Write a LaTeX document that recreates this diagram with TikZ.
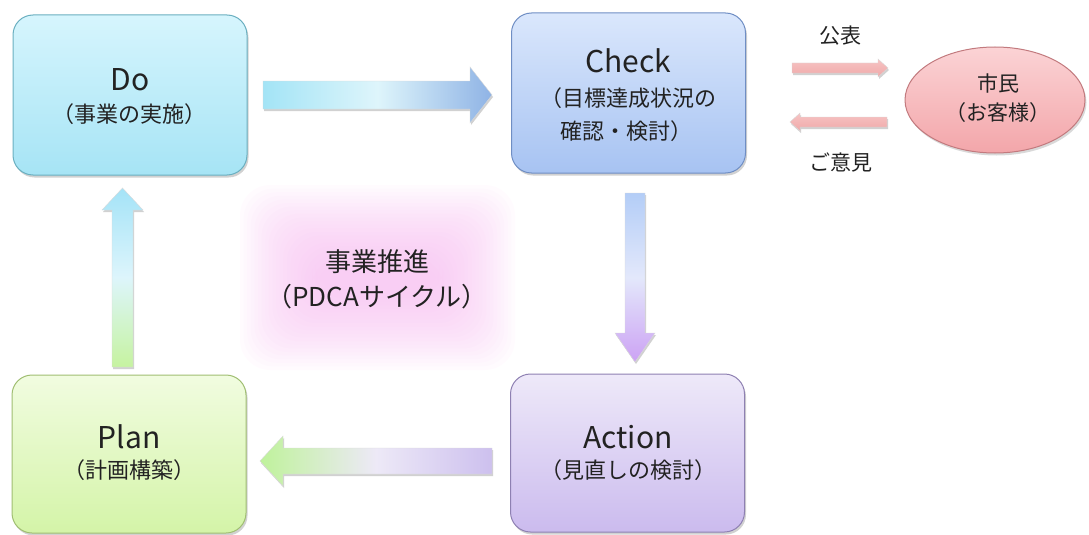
\documentclass[tikz,border=0pt]{standalone}
\usepackage{fontspec}
\setmainfont{Noto Sans CJK JP}
\usetikzlibrary{shadows,shapes.geometric}
\definecolor{txt}{HTML}{222222}
\definecolor{doTop}{HTML}{D6F5FD}\definecolor{doBot}{HTML}{A6E4F5}\definecolor{doLine}{HTML}{6AAFC0}
\definecolor{chTop}{HTML}{DAE7FC}\definecolor{chBot}{HTML}{A7C3F2}\definecolor{chLine}{HTML}{6F8EC4}
\definecolor{plTop}{HTML}{F1FCE0}\definecolor{plBot}{HTML}{D4F4A8}\definecolor{plLine}{HTML}{A0BE72}
\definecolor{acTop}{HTML}{EEE9F9}\definecolor{acBot}{HTML}{CBBBEE}\definecolor{acLine}{HTML}{8E80B2}
\definecolor{elTop}{HTML}{FBD3D5}\definecolor{elBot}{HTML}{F3A6AA}\definecolor{elLine}{HTML}{C27A7E}
\definecolor{cyanA}{HTML}{A3E4F6}\definecolor{cyanL}{HTML}{DEF5FB}\definecolor{blueA}{HTML}{8FB3E5}
\definecolor{blueB}{HTML}{B3CDF7}\definecolor{blueL}{HTML}{E3E8FB}\definecolor{violA}{HTML}{CCA2F4}
\definecolor{greenA}{HTML}{BFF29B}\definecolor{lilacL}{HTML}{EDE9F7}\definecolor{lilacA}{HTML}{CDC0EE}
\definecolor{greenB}{HTML}{C6F3A0}\definecolor{cyanB}{HTML}{A4E3F7}\definecolor{cyanM}{HTML}{DDF5FC}
\definecolor{pinkA}{HTML}{F7C4C4}\definecolor{pinkB}{HTML}{EFA9A9}
\definecolor{glowc}{HTML}{F6B8EF}
\begin{document}
\begin{tikzpicture}[x=1pt,y=-1pt,
  box/.style={draw, line width=1pt, rounded corners=20pt, minimum width=234pt, minimum height=160pt,
    drop shadow={fill=black, opacity=0.18, shadow xshift=1.5pt, shadow yshift=-2.5pt}},
  title/.style={anchor=base, text=txt, inner sep=0pt, font=\fontsize{30}{36}\selectfont},
  sub/.style={anchor=base, text=txt, inner sep=0pt, font=\fontsize{22}{26}\selectfont},
  big/.style={anchor=base, text=txt, inner sep=0pt, font=\fontsize{26}{30}\selectfont},
  small/.style={anchor=base, text=txt, inner sep=0pt, font=\fontsize{21}{25}\selectfont},
  glowlayer/.style={fill=glowc, opacity=0.05, rounded corners=30pt},
  arr/.style={draw=white!85!black, line width=0.4pt,
    drop shadow={fill=black, opacity=0.18, shadow xshift=1pt, shadow yshift=-2pt}}
]
\useasboundingbox (0,0) rectangle (1089,535);
% glow
\foreach \i in {0,...,21}
  \fill[glowlayer] ({240+3.6*\i},{185+3.6*\i}) rectangle ({515-3.6*\i},{370-3.6*\i});
\node[big] (t1) at (377,271) {事業推進};
\node[big] (t2) at (377,306) {（PDCAサイクル）};
% boxes
\node[box, draw=doLine, top color=doTop, bottom color=doBot] (do) at (130,95) {};
\node[box, draw=chLine, top color=chTop, bottom color=chBot] (check) at (628.5,93) {};
\node[box, draw=plLine, top color=plTop, bottom color=plBot, minimum height=158pt] (plan) at (129,454) {};
\node[box, draw=acLine, top color=acTop, bottom color=acBot, minimum height=158pt] (action) at (627.5,453) {};
% ellipse
\node[ellipse, draw=elLine, line width=1pt, top color=elTop, bottom color=elBot, minimum width=180pt, minimum height=106pt,
  drop shadow={fill=black, opacity=0.15, shadow xshift=1.5pt, shadow yshift=-2.5pt}] (citizen) at (995,100) {};
% texts
\node[title] (doT) at (130,90) {Do};
\node[sub] (doS) at (129,122) {（事業の実施）};
\node[title] (chT) at (628,73) {Check};
\node[sub] (chS1) at (628,106) {（目標達成状況の};
\node[sub] (chS2) at (626,139) {確認・検討）};
\node[title] (plT) at (129,448) {Plan};
\node[sub] (plS) at (129,478) {（計画構築）};
\node[title] (acT) at (628,448) {Action};
\node[sub] (acS) at (628,478) {（見直しの検討）};
\node[small] (ci1) at (998,92) {市民};
\node[small] (ci2) at (998,120) {（お客様）};
\node[small] (pub) at (840,44) {公表};
\node[small] (op) at (841,170) {ご意見};
% block arrows
\path[arr, left color=cyanA, right color=blueA, middle color=cyanL]
  (263,81) -- (470,81) -- (470,67) -- (492,95) -- (470,123) -- (470,109) -- (263,109) -- cycle;
\path[arr, top color=blueB, bottom color=violA, middle color=blueL]
  (625,193) -- (645,193) -- (645,333) -- (655,333) -- (635,362) -- (615,333) -- (625,333) -- cycle;
\path[arr, left color=greenA, right color=lilacA, middle color=lilacL]
  (492,448) -- (283,448) -- (283,436) -- (260,461) -- (283,486) -- (283,474) -- (492,474) -- cycle;
\path[arr, top color=cyanB, bottom color=greenB, middle color=cyanM]
  (112,367) -- (112,210) -- (102,210) -- (122.5,188) -- (143,210) -- (133,210) -- (133,367) -- cycle;
\path[arr, top color=pinkA, bottom color=pinkB]
  (792,63) -- (878,63) -- (878,59) -- (888,68) -- (878,77) -- (878,73) -- (792,73) -- cycle;
\path[arr, top color=pinkA, bottom color=pinkB]
  (887,117) -- (800,117) -- (800,113) -- (790,122) -- (800,131) -- (800,127) -- (887,127) -- cycle;
\end{tikzpicture}
\end{document}
